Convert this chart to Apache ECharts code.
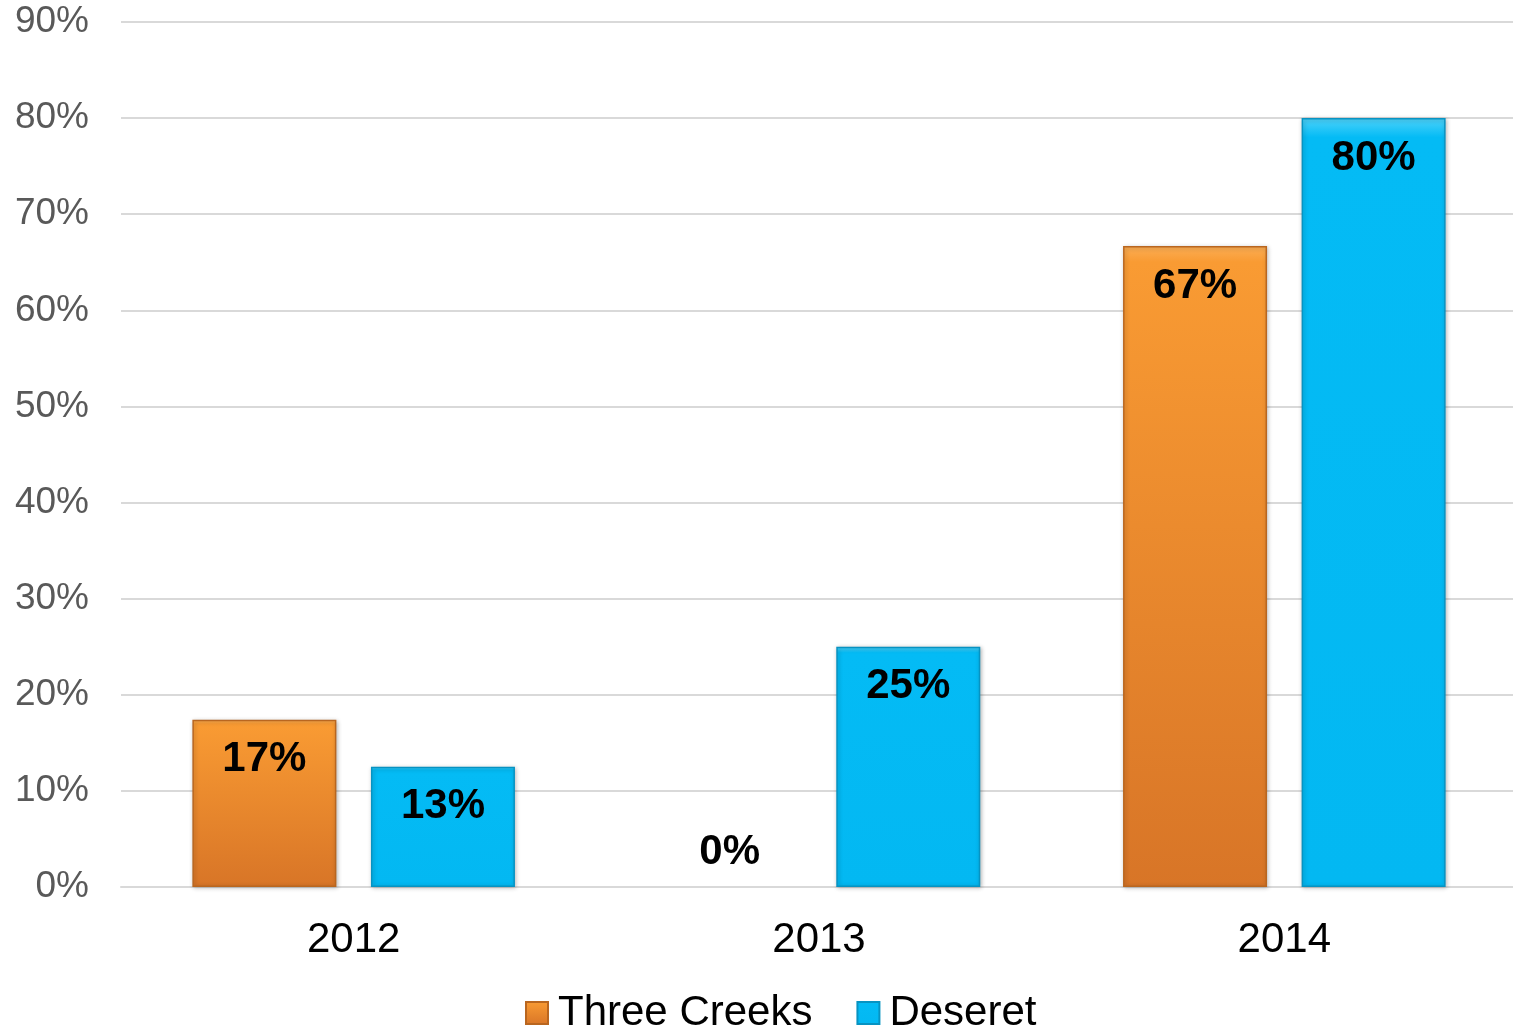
<!DOCTYPE html>
<html>
<head>
<meta charset="utf-8">
<script src="https://cdn.jsdelivr.net/npm/echarts@6/dist/echarts.min.js"></script>
<style>
html,body{margin:0;padding:0;background:#fff;}
#chart{width:1513px;height:1029px;}
</style>
</head>
<body>
<div id="chart"></div>
<script>
const categories = ['2012', '2013', '2014'];
const threeCreeks = [17.4, 0, 66.7];
const deseret = [12.5, 25, 80];
const yTicks = [0, 10, 20, 30, 40, 50, 60, 70, 80, 90];
const seriesNames = ['Three Creeks', 'Deseret'];

const orange = new echarts.graphic.LinearGradient(0, 0, 0, 1, [
  {offset: 0, color: '#FBAE55'},
  {offset: 0.025, color: '#F99B33'},
  {offset: 1, color: '#D87527'}
]);
const blue = new echarts.graphic.LinearGradient(0, 0, 0, 1, [
  {offset: 0, color: '#4ED2FA'},
  {offset: 0.025, color: '#04BBF5'},
  {offset: 1, color: '#03B8F2'}
]);

const FONT = 'Liberation Sans, Arial, sans-serif';

const labelBase = {
  show: true,
  position: 'insideTop',
  distance: 19,
  fontFamily: FONT,
  fontSize: 42,
  lineHeight: 42,
  fontWeight: 'bold',
  color: '#000',
  formatter: p => Math.round(p.value) + '%'
};

function makeData(arr) {
  return arr.map(v => v === 0
    ? {value: v, label: {position: 'top', distance: 14},
       itemStyle: {color: 'rgba(0,0,0,0)', borderWidth: 0, shadowBlur: 0, shadowColor: 'rgba(0,0,0,0)'}}
    : v);
}

const chart = echarts.init(document.getElementById('chart'));
chart.setOption({
  animation: false,
  backgroundColor: '#fff',
  grid: {left: 121, top: 22, width: 1396, bottom: 142, containLabel: false, outerBoundsMode: 'none'},
  legend: {
    left: 520, top: 987,
    itemWidth: 22, itemHeight: 22, itemGap: 44,
    icon: 'rect',
    textStyle: {fontFamily: FONT, fontSize: 42, color: '#000', padding: [0, 0, 0, 5]},
    data: seriesNames
  },
  xAxis: {
    type: 'category',
    data: categories,
    axisLine: {show: true, lineStyle: {color: '#D9D9D9', width: 2}},
    axisTick: {show: false},
    axisLabel: {fontFamily: FONT, fontSize: 42, lineHeight: 42, color: '#000', margin: 32}
  },
  yAxis: {
    type: 'value',
    min: yTicks[0], max: yTicks[yTicks.length - 1], interval: 10,
    axisLine: {show: false},
    axisTick: {show: false},
    splitLine: {lineStyle: {color: '#D9D9D9', width: 2}},
    axisLabel: {fontFamily: FONT, fontSize: 37, color: '#595959', margin: 32, formatter: v => v + '%'}
  },
  series: [
    {
      name: seriesNames[0], type: 'bar', barWidth: 144, barGap: '24%',
      data: makeData(threeCreeks),
      itemStyle: {color: orange, borderColor: '#B9661F', borderWidth: 1.5,
        shadowColor: 'rgba(0,0,0,0.25)', shadowBlur: 4, shadowOffsetX: 1, shadowOffsetY: 1},
      label: labelBase
    },
    {
      name: seriesNames[1], type: 'bar', barWidth: 144,
      data: makeData(deseret),
      itemStyle: {color: blue, borderColor: '#0793C2', borderWidth: 1.5,
        shadowColor: 'rgba(0,0,0,0.25)', shadowBlur: 4, shadowOffsetX: 1, shadowOffsetY: 1},
      label: labelBase
    }
  ]
});
</script>
</body>
</html>
